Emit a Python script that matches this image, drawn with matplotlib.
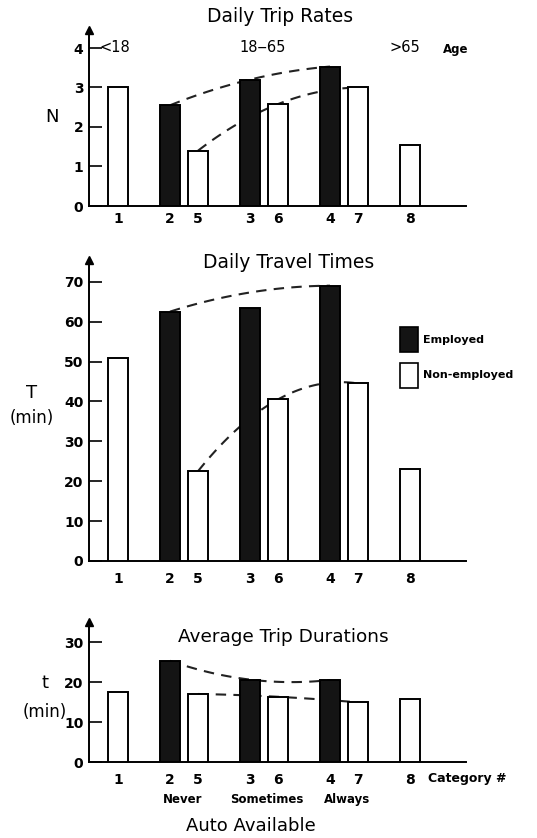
import numpy as np
import matplotlib
matplotlib.use('Agg')
import matplotlib.pyplot as plt
from matplotlib.patches import Patch

# --- data ---
categories = ['1', '2', '5', '3', '6', '4', '7', '8']
employed = [False, True, False, True, False, True, False, False]
trip_rates = [3.0, 2.55, 1.4, 3.2, 2.58, 3.53, 3.0, 1.54]
travel_times = [51, 62.5, 22.5, 63.5, 40.5, 69, 44.5, 23]
trip_durations = [17.5, 25.3, 17.0, 20.6, 16.3, 20.5, 14.9, 15.8]

# dashed trend lines (employed: cat 2,3,4 ; non-employed: cat 5,6,7)
rates_emp_trend = [2.55, 3.2, 3.53]
rates_non_trend = [1.4, 2.58, 3.0]
times_emp_trend = [62.5, 67.3, 69.0]
times_non_trend = [22.5, 40.5, 44.5]
dur_emp_trend = [25.3, 20.6, 20.5]
dur_non_trend = [17.0, 16.3, 14.9]

age_labels = ['<18', '18\u201265', '>65']
auto_labels = ['Never', 'Sometimes', 'Always']

# layout: slot positions of the bars
pos = np.array([0, 1.3, 2.0, 3.3, 4.0, 5.3, 6.0, 7.3])
W, H = 537, 838
DARK = '#141414'

fig = plt.figure(figsize=(W / 100, H / 100), dpi=100)


def px(x, y):
    return x / W, 1 - y / H


def make_axes(base, top):
    b = 1 - base / H
    return fig.add_axes([89 / W, b, (466 - 89) / W, (base - top) / H])


def draw_panel(ax, vals, ymax, yticks, emp_trend, non_trend, pad):
    idx = {c: i for i, c in enumerate(categories)}
    colors = [DARK if e else 'white' for e in employed]
    ax.bar(pos, vals, width=0.5, color=colors, edgecolor='black',
           linewidth=1.4, zorder=3)
    for cats, tr in ((['2', '3', '4'], emp_trend), (['5', '6', '7'], non_trend)):
        xs = pos[[idx[c] for c in cats]]
        coef = np.polyfit(xs, tr, 2)
        xx = np.linspace(xs[0], xs[-1], 100)
        ax.plot(xx, np.polyval(coef, xx), color='#222222', lw=1.5,
                ls=(0, (5, 3.5)), zorder=2)
    ax.set_xlim(-0.725, 8.7)
    ax.set_ylim(0, ymax)
    ax.set_yticks(yticks)
    ax.set_xticks(pos)
    ax.set_xticklabels(categories)
    for s in ('top', 'right'):
        ax.spines[s].set_visible(False)
    ax.spines['left'].set_linewidth(1.4)
    ax.spines['bottom'].set_linewidth(1.4)
    ax.tick_params(axis='y', direction='in', length=9, width=1.2,
                   labelsize=10, pad=4)
    ax.tick_params(axis='x', length=0, labelsize=10, pad=pad)
    for lab in ax.get_xticklabels() + ax.get_yticklabels():
        lab.set_fontweight('bold')
    ax.plot(0, 1, marker='^', color='black', ms=6, transform=ax.transAxes,
            clip_on=False, zorder=5)


# --- Daily trip rates ---
ax1 = make_axes(206, 30)
draw_panel(ax1, trip_rates, (206 - 30) / 39.5, [0, 1, 2, 3, 4],
           rates_emp_trend, rates_non_trend, 4)
fig.text(*px(280, 17), 'Daily Trip Rates', ha='center', va='center', fontsize=13.5)
fig.text(*px(52, 117), 'N', ha='center', va='center', fontsize=13)
fig.text(*px(115, 48), age_labels[0], ha='center', va='center', fontsize=10.5)
fig.text(*px(263, 48), age_labels[1], ha='center', va='center', fontsize=10.5)
fig.text(*px(405, 48), age_labels[2], ha='center', va='center', fontsize=10.5)
fig.text(*px(456, 49), 'Age', ha='center', va='center', fontsize=8.5,
         fontweight='bold')

# --- Daily travel times ---
ax2 = make_axes(561, 260)
draw_panel(ax2, travel_times, (561 - 260) / 3.99, range(0, 71, 10),
           times_emp_trend, times_non_trend, 8)
fig.text(*px(289, 263), 'Daily Travel Times', ha='center', va='center',
         fontsize=13.5)
fig.text(*px(32, 393), 'T', ha='center', va='center', fontsize=13)
fig.text(*px(32, 418), '(min)', ha='center', va='center', fontsize=12)
handles = [Patch(facecolor=DARK, edgecolor='black', lw=1.2, label='Employed'),
           Patch(facecolor='white', edgecolor='black', lw=1.2, label='Non-employed')]
leg = fig.legend(handles=handles, loc='upper left', bbox_to_anchor=px(400, 327),
                 frameon=False, fontsize=8, handlelength=1.6, handleheight=3.1,
                 handletextpad=0.5, labelspacing=0.95, borderpad=0,
                 borderaxespad=0)
for t in leg.get_texts():
    t.set_fontweight('bold')

# --- Average trip durations ---
ax3 = make_axes(762, 622)
draw_panel(ax3, trip_durations, (762 - 622) / 4.0, [0, 10, 20, 30],
           dur_emp_trend, dur_non_trend, 8)
fig.text(*px(283, 637), 'Average Trip Durations', ha='center', va='center',
         fontsize=13.3)
fig.text(*px(45, 683), 't', ha='center', va='center', fontsize=13)
fig.text(*px(45, 712), '(min)', ha='center', va='center', fontsize=12)
fig.text(*px(428, 778), 'Category #', ha='left', va='center', fontsize=9,
         fontweight='bold')
fig.text(*px(183, 799), auto_labels[0], ha='center', va='center', fontsize=8.5,
         fontweight='bold')
fig.text(*px(267, 799), auto_labels[1], ha='center', va='center', fontsize=8.5,
         fontweight='bold')
fig.text(*px(347, 799), auto_labels[2], ha='center', va='center', fontsize=8.5,
         fontweight='bold')
fig.text(*px(251, 826), 'Auto Available', ha='center', va='center', fontsize=13)

fig.savefig('out.png', dpi=100)
